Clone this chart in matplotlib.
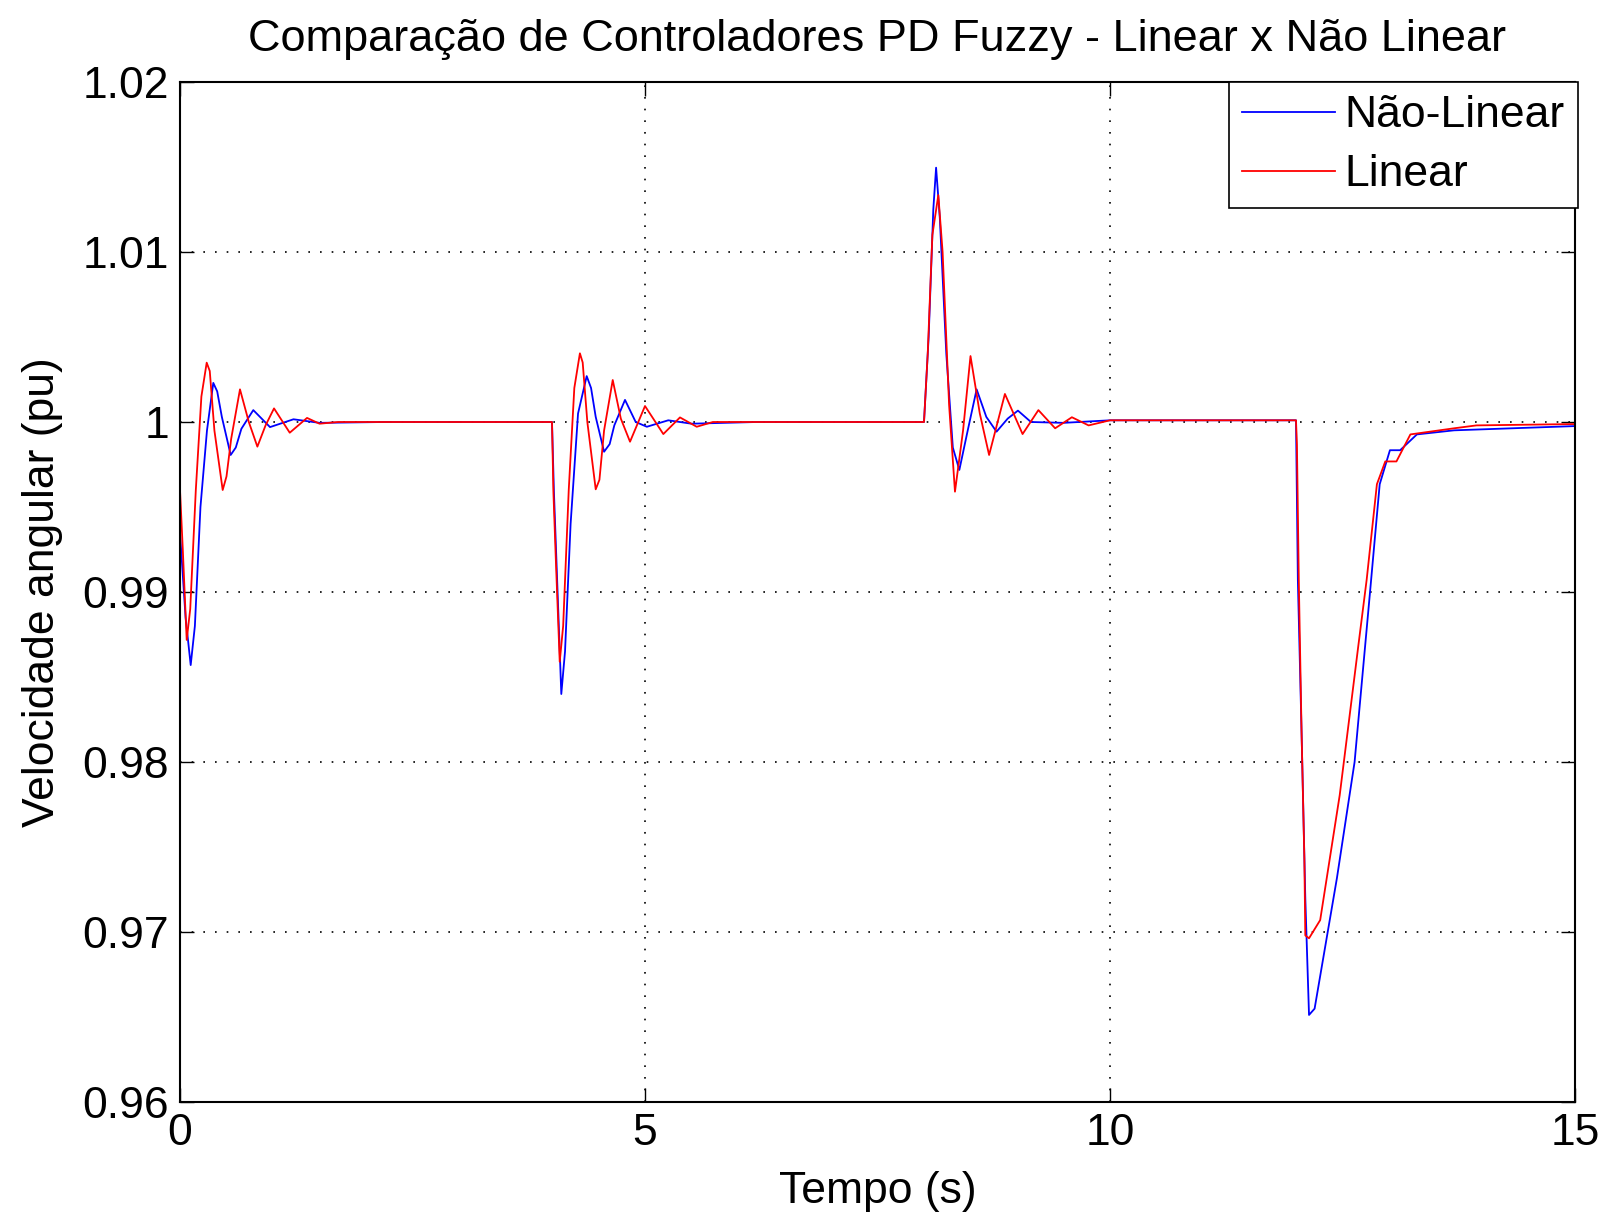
import matplotlib
matplotlib.use('Agg')
import matplotlib.pyplot as plt
import numpy as np

plt.rcParams['font.family'] = ['Liberation Sans', 'DejaVu Sans']

# Nao-Linear (blue)
t_nl = [0, 0.06, 0.115, 0.16, 0.22, 0.29, 0.358, 0.40, 0.45, 0.545, 0.60, 0.66, 0.788, 0.968, 1.22, 1.5, 2.2,
        4.0, 4.02, 4.06, 4.10, 4.14, 4.20, 4.28, 4.373, 4.42, 4.47, 4.56, 4.62, 4.67, 4.785, 4.90, 5.02, 5.25, 5.5, 6.2,
        8.0, 8.05, 8.10, 8.13, 8.17, 8.24, 8.31, 8.38, 8.47, 8.566, 8.67, 8.78, 8.9, 9.01, 9.15, 9.5, 10.0,
        12.0, 12.02, 12.06, 12.10, 12.14, 12.2, 12.44, 12.63, 12.80, 12.90, 13.01, 13.12, 13.30, 13.7, 15.0]
w_nl = [0.9935, 0.9885, 0.9857, 0.9880, 0.9950, 0.9995, 1.0023, 1.0018, 1.0003, 0.99806, 0.9985, 0.9996, 1.0007, 0.9997, 1.00016, 0.99995, 1.0,
        1.0, 0.9960, 0.9900, 0.9840, 0.9865, 0.9940, 1.0005, 1.0027, 1.0020, 1.0003, 0.99825, 0.9987, 0.9998, 1.0013, 1.0, 0.99972, 1.0001, 0.9999, 1.0,
        1.0, 1.0050, 1.0125, 1.01496, 1.0120, 1.0040, 0.9985, 0.99718, 0.9995, 1.00192, 1.0003, 0.99943, 1.0002, 1.00067, 1.0, 0.99995, 1.0001,
        1.0001, 0.9907, 0.9817, 0.9720, 0.96512, 0.96549, 0.97317, 0.9800, 0.99024, 0.99634, 0.99834, 0.99834, 0.99927, 0.99951, 0.99976]

# Linear (red)
t_lin = [0, 0.03, 0.072, 0.11, 0.17, 0.23, 0.287, 0.32, 0.37, 0.459, 0.50, 0.55, 0.645, 0.74, 0.832, 0.92, 1.011, 1.18, 1.366, 1.5, 1.7,
         4.0, 4.015, 4.04, 4.083, 4.12, 4.18, 4.24, 4.30, 4.33, 4.38, 4.47, 4.51, 4.56, 4.653, 4.74, 4.839, 5.0, 5.197, 5.376, 5.556, 5.73,
         8.0, 8.04, 8.09, 8.154, 8.20, 8.27, 8.333, 8.42, 8.50, 8.60, 8.70, 8.87, 9.06, 9.23, 9.41, 9.59, 9.77, 10.0,
         12.0, 12.01, 12.03, 12.06, 12.09, 12.1, 12.14, 12.26, 12.47, 12.67, 12.76, 12.87, 12.96, 13.08, 13.23, 13.7, 13.94, 15.0]
w_lin = [0.9960, 0.9925, 0.98718, 0.9890, 0.9960, 1.0015, 1.00349, 1.0030, 0.9995, 0.9960, 0.9968, 0.9990, 1.00192, 1.0, 0.99855, 0.9998, 1.0008, 0.99937, 1.00024, 0.9999, 1.0,
         1.0, 0.9959, 0.99208, 0.9859, 0.9880, 0.9960, 1.0020, 1.00404, 1.0035, 1.0, 0.99604, 0.9966, 0.9995, 1.00247, 1.0002, 0.99884, 1.00094, 0.99929, 1.00027, 0.99972, 1.0,
         1.0, 1.0040, 1.0110, 1.01335, 1.0100, 1.0010, 0.9959, 0.9995, 1.00388, 1.0005, 0.99806, 1.00165, 0.99929, 1.0007, 0.99963, 1.00028, 0.9998, 1.0001,
         1.0001, 0.99866, 0.9907, 0.9817, 0.97427, 0.9698, 0.96963, 0.9707, 0.97805, 0.98683, 0.99073, 0.99634, 0.99768, 0.99768, 0.99927, 0.99963, 0.9998, 0.99988]

xticks = [0, 5, 10, 15]
yticks = [0.96, 0.97, 0.98, 0.99, 1.0, 1.01, 1.02]
ytick_labels = ['0.96', '0.97', '0.98', '0.99', '1', '1.01', '1.02']

fig = plt.figure(figsize=(16.04, 12.14), dpi=100)
ax = fig.add_axes([180/1604, 112/1214, 1395/1604, 1020/1214])

ax.plot(t_nl, w_nl, color=(0, 0, 1), lw=1.3, label='Não-Linear')
ax.plot(t_lin, w_lin, color=(1, 0, 0), lw=1.3, label='Linear')

ax.set_xlim(0, 15)
ax.set_ylim(0.96, 1.02)
ax.set_xticks(xticks)
ax.set_yticks(yticks)
ax.set_yticklabels(ytick_labels)
ax.tick_params(direction='in', length=10, width=1, top=True, right=True, labelsize=32, pad=8)
ax.grid(True, color='black', linestyle=(0, (1, 6)), linewidth=1.2)
for s in ax.spines.values():
    s.set_linewidth(1.5)

ax.set_xlabel('Tempo (s)', fontsize=32, labelpad=12)
ax.set_ylabel('Velocidade angular (pu)', fontsize=32, labelpad=14)
ax.set_title('Comparação de Controladores PD Fuzzy - Linear x Não Linear', fontsize=32.5, pad=22)

leg = ax.legend(loc='upper right', bbox_to_anchor=(1.002, 1.0), borderaxespad=0, fontsize=32,
                fancybox=False, framealpha=1, edgecolor='black', handlelength=2.1,
                handletextpad=0.2, labelspacing=0.4, borderpad=0.3)
leg.get_frame().set_linewidth(1.2)

fig.savefig('out.png', dpi=100)
